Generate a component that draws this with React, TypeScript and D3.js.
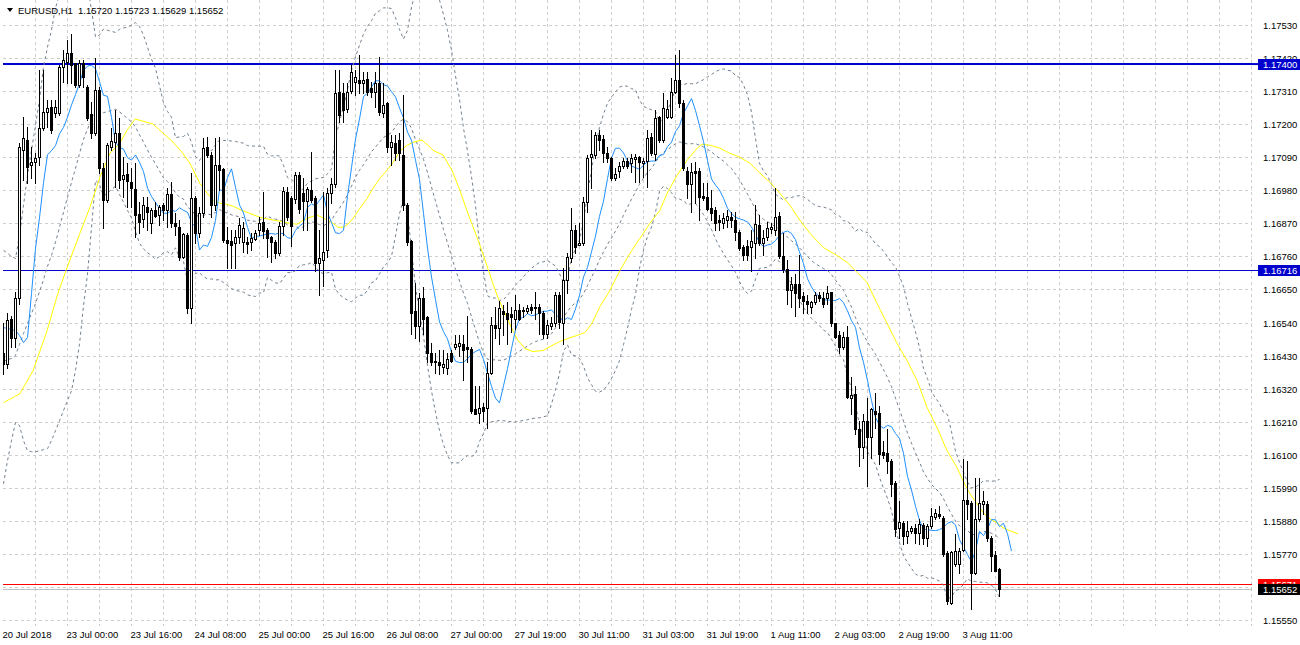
import React from 'react';
import * as d3 from 'd3';

// ---------- data (EURUSD H1) ----------
const open = [1.16440,1.16403,1.16550,1.16487,1.16623,1.17113,1.17147,1.17063,1.17073,1.17090,1.17187,1.17240,1.17257,1.17237,1.17237,1.17390,1.17407,1.17437,1.17403,1.17330,1.17403,1.17323,1.17233,1.17170,1.17313,1.17053,1.16947,1.17123,1.17140,1.17170,1.17017,1.17033,1.17007,1.16983,1.16900,1.16883,1.16923,1.16870,1.16913,1.16897,1.16930,1.16913,1.16967,1.16870,1.16857,1.16757,1.16830,1.16587,1.16953,1.16837,1.16903,1.17123,1.17097,1.16930,1.17063,1.17050,1.16813,1.16810,1.16803,1.16823,1.16807,1.16807,1.16807,1.16817,1.16847,1.16873,1.16847,1.16823,1.16807,1.16770,1.16860,1.16973,1.16953,1.16950,1.17030,1.16970,1.16943,1.16980,1.16953,1.16737,1.16747,1.16780,1.16970,1.17000,1.17307,1.17303,1.17250,1.17310,1.17340,1.17347,1.17337,1.17350,1.17320,1.17307,1.17337,1.17237,1.17270,1.17123,1.17137,1.17147,1.17097,1.16930,1.16810,1.16577,1.16530,1.16623,1.16557,1.16437,1.16413,1.16410,1.16393,1.16390,1.16437,1.16460,1.16463,1.16470,1.16460,1.16453,1.16253,1.16240,1.16260,1.16257,1.16373,1.16533,1.16523,1.16577,1.16570,1.16567,1.16550,1.16580,1.16577,1.16577,1.16590,1.16590,1.16590,1.16570,1.16503,1.16530,1.16537,1.16630,1.16540,1.16680,1.16753,1.16847,1.16797,1.16803,1.16940,1.17090,1.17097,1.17163,1.17150,1.17103,1.17087,1.17020,1.17043,1.17060,1.17077,1.17070,1.17083,1.17090,1.17070,1.17077,1.17157,1.17100,1.17223,1.17147,1.17223,1.17223,1.17307,1.17347,1.17270,1.17043,1.17000,1.17043,1.17043,1.16960,1.16957,1.16920,1.16913,1.16880,1.16870,1.16880,1.16890,1.16880,1.16840,1.16790,1.16793,1.16790,1.16803,1.16863,1.16803,1.16823,1.16850,1.16847,1.16893,1.16760,1.16717,1.16647,1.16667,1.16667,1.16627,1.16613,1.16590,1.16607,1.16630,1.16623,1.16620,1.16640,1.16537,1.16497,1.16460,1.16493,1.16290,1.16303,1.16187,1.16127,1.16213,1.16160,1.16247,1.16240,1.16110,1.16107,1.16080,1.16007,1.15857,1.15873,1.15830,1.15847,1.15857,1.15840,1.15867,1.15823,1.15863,1.15893,1.15903,1.15890,1.15773,1.15607,1.15737,1.15737,1.15783,1.15950,1.15940,1.15707,1.15887,1.15937,1.15937,1.15823,1.15767,1.15720];
const high = [1.16537,1.16573,1.16563,1.16640,1.17137,1.17223,1.17190,1.17123,1.17103,1.17380,1.17380,1.17280,1.17280,1.17280,1.17397,1.17447,1.17480,1.17500,1.17403,1.17413,1.17413,1.17330,1.17273,1.17420,1.17323,1.17070,1.17137,1.17187,1.17247,1.17220,1.17090,1.17070,1.17053,1.17070,1.16940,1.16957,1.16957,1.16920,1.16940,1.16930,1.16937,1.16987,1.17007,1.16903,1.16880,1.16837,1.16837,1.17037,1.16960,1.16923,1.17153,1.17157,1.17107,1.17153,1.17157,1.17053,1.16857,1.16847,1.16847,1.16887,1.16873,1.16823,1.16837,1.16847,1.16890,1.16973,1.16853,1.16827,1.16813,1.16873,1.16990,1.16990,1.16960,1.17040,1.17040,1.17020,1.16990,1.17107,1.16960,1.16847,1.16973,1.16987,1.17020,1.17380,1.17380,1.17337,1.17337,1.17397,1.17380,1.17430,1.17373,1.17373,1.17340,1.17373,1.17423,1.17337,1.17273,1.17163,1.17163,1.17170,1.17297,1.16937,1.16813,1.16670,1.16637,1.16657,1.16563,1.16473,1.16440,1.16447,1.16447,1.16437,1.16447,1.16497,1.16497,1.16497,1.16563,1.16457,1.16330,1.16330,1.16273,1.16407,1.16557,1.16590,1.16613,1.16597,1.16607,1.16590,1.16630,1.16603,1.16590,1.16597,1.16603,1.16640,1.16603,1.16577,1.16547,1.16557,1.16640,1.16640,1.16723,1.16770,1.16920,1.16863,1.16870,1.16957,1.17097,1.17180,1.17173,1.17180,1.17163,1.17123,1.17090,1.17053,1.17073,1.17087,1.17087,1.17100,1.17100,1.17093,1.17087,1.17180,1.17170,1.17247,1.17227,1.17303,1.17280,1.17353,1.17430,1.17447,1.17280,1.17057,1.17070,1.17073,1.17053,1.17003,1.17003,1.16980,1.16923,1.16897,1.16903,1.16913,1.16907,1.16907,1.16847,1.16797,1.16813,1.16847,1.16930,1.16897,1.16847,1.16873,1.16870,1.16987,1.16907,1.16837,1.16747,1.16690,1.16703,1.16763,1.16640,1.16630,1.16613,1.16640,1.16640,1.16640,1.16663,1.16643,1.16540,1.16513,1.16507,1.16530,1.16357,1.16330,1.16213,1.16237,1.16290,1.16257,1.16307,1.16263,1.16147,1.16187,1.16087,1.16013,1.15947,1.15880,1.15880,1.15863,1.15870,1.15887,1.15873,1.15870,1.15923,1.15920,1.15930,1.15897,1.15780,1.15780,1.15837,1.15790,1.16087,1.16080,1.15947,1.16023,1.16023,1.15980,1.15947,1.15830,1.15780,1.15723];
const low = [1.16370,1.16390,1.16457,1.16457,1.16603,1.17013,1.17003,1.17020,1.17003,1.17063,1.17180,1.17190,1.17170,1.17223,1.17230,1.17340,1.17337,1.17337,1.17323,1.17323,1.17323,1.17213,1.17153,1.17163,1.17037,1.16853,1.16940,1.17113,1.16990,1.16987,1.16957,1.16923,1.16923,1.16823,1.16837,1.16857,1.16847,1.16837,1.16890,1.16863,1.16880,1.16857,1.16857,1.16830,1.16747,1.16753,1.16570,1.16537,1.16803,1.16823,1.16890,1.17090,1.16890,1.16913,1.16980,1.16807,1.16723,1.16723,1.16723,1.16803,1.16773,1.16770,1.16780,1.16813,1.16830,1.16820,1.16757,1.16740,1.16753,1.16763,1.16830,1.16880,1.16793,1.16937,1.16903,1.16847,1.16847,1.16940,1.16713,1.16630,1.16663,1.16757,1.16937,1.16990,1.17207,1.17207,1.17240,1.17303,1.17297,1.17303,1.17303,1.17297,1.17290,1.17257,1.17230,1.17223,1.17107,1.17063,1.17080,1.17080,1.16913,1.16797,1.16503,1.16490,1.16480,1.16503,1.16407,1.16397,1.16373,1.16370,1.16373,1.16370,1.16407,1.16453,1.16430,1.16347,1.16407,1.16240,1.16237,1.16207,1.16213,1.16190,1.16370,1.16487,1.16470,1.16497,1.16470,1.16507,1.16520,1.16547,1.16557,1.16570,1.16570,1.16553,1.16503,1.16490,1.16487,1.16520,1.16530,1.16523,1.16470,1.16637,1.16740,1.16770,1.16797,1.16797,1.16907,1.16987,1.17087,1.17113,1.17073,1.17073,1.17013,1.17013,1.17023,1.17053,1.17053,1.17040,1.17007,1.17007,1.17023,1.16990,1.17097,1.17080,1.17140,1.17140,1.17220,1.17220,1.17303,1.17257,1.17047,1.16953,1.16907,1.16937,1.16880,1.16947,1.16913,1.16880,1.16847,1.16847,1.16853,1.16857,1.16857,1.16813,1.16780,1.16747,1.16747,1.16713,1.16753,1.16797,1.16763,1.16813,1.16837,1.16830,1.16753,1.16707,1.16603,1.16590,1.16563,1.16590,1.16573,1.16570,1.16570,1.16603,1.16613,1.16590,1.16603,1.16530,1.16490,1.16440,1.16453,1.16290,1.16237,1.16170,1.16063,1.16090,1.15997,1.16090,1.16190,1.16070,1.16090,1.16040,1.15963,1.15830,1.15823,1.15803,1.15807,1.15840,1.15807,1.15803,1.15803,1.15797,1.15857,1.15887,1.15890,1.15763,1.15603,1.15603,1.15730,1.15707,1.15780,1.15887,1.15587,1.15703,1.15880,1.15903,1.15813,1.15713,1.15713,1.15629];
const close = [1.16403,1.16547,1.16490,1.16620,1.17123,1.17153,1.17057,1.17073,1.17087,1.17187,1.17240,1.17253,1.17180,1.17257,1.17390,1.17413,1.17437,1.17397,1.17330,1.17403,1.17357,1.17220,1.17170,1.17313,1.17053,1.16947,1.17130,1.17143,1.17170,1.17013,1.17030,1.17010,1.16987,1.16897,1.16873,1.16930,1.16907,1.16913,1.16893,1.16923,1.16913,1.16967,1.16870,1.16860,1.16757,1.16833,1.16587,1.16953,1.16837,1.16903,1.17120,1.17097,1.16930,1.17063,1.17047,1.16813,1.16803,1.16797,1.16823,1.16863,1.16853,1.16800,1.16820,1.16837,1.16870,1.16843,1.16820,1.16807,1.16770,1.16860,1.16977,1.16890,1.16860,1.17030,1.16917,1.16943,1.16983,1.16947,1.16737,1.16753,1.16773,1.16970,1.17000,1.17303,1.17230,1.17247,1.17307,1.17373,1.17357,1.17337,1.17347,1.17307,1.17307,1.17337,1.17240,1.17263,1.17123,1.17140,1.17103,1.17103,1.16930,1.16807,1.16573,1.16527,1.16620,1.16553,1.16437,1.16410,1.16407,1.16397,1.16403,1.16417,1.16413,1.16467,1.16473,1.16447,1.16453,1.16247,1.16237,1.16257,1.16247,1.16373,1.16533,1.16523,1.16587,1.16567,1.16553,1.16557,1.16583,1.16553,1.16580,1.16587,1.16583,1.16587,1.16573,1.16503,1.16533,1.16540,1.16630,1.16543,1.16680,1.16757,1.16847,1.16790,1.16803,1.16940,1.17087,1.17100,1.17163,1.17147,1.17103,1.17087,1.17020,1.17033,1.17060,1.17077,1.17060,1.17087,1.17090,1.17073,1.17077,1.17153,1.17103,1.17220,1.17147,1.17253,1.17250,1.17307,1.17347,1.17270,1.17053,1.17000,1.17040,1.17037,1.16957,1.16953,1.16917,1.16903,1.16870,1.16873,1.16887,1.16893,1.16880,1.16840,1.16787,1.16763,1.16763,1.16810,1.16867,1.16803,1.16820,1.16853,1.16857,1.16890,1.16760,1.16717,1.16647,1.16667,1.16637,1.16623,1.16610,1.16603,1.16607,1.16630,1.16623,1.16603,1.16637,1.16537,1.16493,1.16460,1.16493,1.16293,1.16300,1.16187,1.16127,1.16213,1.16160,1.16253,1.16237,1.16103,1.16100,1.16080,1.16003,1.15853,1.15877,1.15830,1.15847,1.15857,1.15840,1.15870,1.15823,1.15863,1.15897,1.15907,1.15897,1.15770,1.15613,1.15777,1.15780,1.15780,1.15950,1.15937,1.15707,1.15887,1.15940,1.15947,1.15823,1.15763,1.15713,1.15652];

// indicator values before enough history is on the chart
const blueHead = [1.16523,1.16520,1.16517,1.16513,1.16497,1.16473,1.16490];
const bbUpperHead = [1.16780,1.16770,1.16760,1.16753,1.16830,1.16930,1.17030,1.17113,1.17197,1.17280,1.17390,1.17457,1.17513,1.17587,1.17630,1.17680,1.17713,1.17730,1.17737];
const bbMidHead = [1.16410,1.16417,1.16420,1.16430,1.16467,1.16503,1.16537,1.16570,1.16603,1.16643,1.16683,1.16727,1.16763,1.16807,1.16857,1.16907,1.16957,1.17007,1.17053];
const bbLowerHead = [1.16003,1.16080,1.16147,1.16207,1.16197,1.16147,1.16113,1.16110,1.16110,1.16113,1.16117,1.16120,1.16147,1.16180,1.16213,1.16247,1.16280,1.16313,1.16380];

// slow moving average (yellow): bar position / value
const yellowAt = [0,4.1,7.4,10.9,13.6,15.9,19.1,21.6,24.1,26.6,29.1,30.9,32.9,34.9,37.4,39.9,42.4,44.6,46.6,49.1,50.9,52.4,54.1,55.9,57.4,59.6,61.6,64.1,66.6,69.1,71.6,73.4,74.9,76.6,78.4,79.6,81.1,82.4,83.6,84.9,86.1,87.4,89.1,90.9,92.4,94.1,95.9,97.4,99.1,100.9,102.4,104.6,106.1,107.4,109.9,112.1,114.1,116.1,118.4,120.4,122.1,123.6,125.4,127.1,128.6,130.4,132.4,134.9,137.1,139.1,141.1,143.4,145.4,147.1,148.4,149.1,151.6,154.1,156.6,159.1,161.6,164.1,165.9,168.4,170.9,173.4,174.6,176.6,179.1,181.6,184.1,186.6,189.1,191.6,194.1,196.6,199.1,201.6,204.9,208.4,210.9,213.4,215.9,218.4,220.9,223.4,225.9,228.4,230.9,233.4,235.9,238.4,239.9,241.6,243.4,244.9,246.6,248.4,249.9,251.6,253.6];
const yellowVal = [1.16273,1.16303,1.16380,1.16513,1.16637,1.16723,1.16837,1.16923,1.17023,1.17103,1.17137,1.17180,1.17217,1.17210,1.17200,1.17170,1.17140,1.17107,1.17070,1.17003,1.16970,1.16947,1.16937,1.16933,1.16927,1.16913,1.16903,1.16890,1.16883,1.16877,1.16870,1.16867,1.16880,1.16890,1.16897,1.16890,1.16880,1.16870,1.16857,1.16857,1.16867,1.16887,1.16920,1.16953,1.16987,1.17020,1.17047,1.17073,1.17110,1.17130,1.17140,1.17147,1.17130,1.17113,1.17097,1.17047,1.16980,1.16903,1.16823,1.16747,1.16680,1.16623,1.16570,1.16520,1.16480,1.16453,1.16443,1.16447,1.16463,1.16477,1.16487,1.16497,1.16507,1.16537,1.16573,1.16593,1.16647,1.16713,1.16770,1.16820,1.16870,1.16913,1.16970,1.17030,1.17080,1.17120,1.17133,1.17130,1.17120,1.17103,1.17090,1.17070,1.17037,1.17007,1.16970,1.16930,1.16880,1.16837,1.16790,1.16763,1.16740,1.16707,1.16673,1.16603,1.16537,1.16470,1.16413,1.16347,1.16257,1.16190,1.16113,1.16057,1.16013,1.15970,1.15937,1.15907,1.15887,1.15873,1.15857,1.15847,1.15837];

const priceTicks = [1.17530,1.17420,1.17310,1.17200,1.17090,1.16980,1.16870,1.16760,1.16650,1.16540,1.16430,1.16320,1.16210,1.16100,1.15990,1.15880,1.15770,1.15660,1.15550];
// 1.15660 sits under the price boxes in the reference, so it gets a grid line but no label
const hiddenTickLabels = [1.15660];
const timeLabels = ['20 Jul 2018','23 Jul 00:00','23 Jul 16:00','24 Jul 08:00','25 Jul 00:00','25 Jul 16:00','26 Jul 08:00','27 Jul 00:00','27 Jul 19:00','30 Jul 11:00','31 Jul 03:00','31 Jul 19:00','1 Aug 11:00','2 Aug 03:00','2 Aug 19:00','3 Aug 11:00'];
const timeLabelBars = [0,16,32,48,64,80,96,112,128,144,160,176,192,208,224,240];

const levelHigh = 1.17400;
const levelMid = 1.16716;
const levelLow = 1.15671;
const bid = 1.15652;

// indicator settings
const BB_PERIOD = 20, BB_DEV = 2;
const FAST_PERIOD = 5, FAST_SHIFT = 3;

const FONT = "'Liberation Sans', Arial, sans-serif";

export default function App() {
  const n = close.length;
  const x = d3.scaleLinear().domain([0, n - 1]).range([3.5, 3.5 + 4 * (n - 1)]);
  const y = d3.scaleLinear().domain([1.15550, 1.17530]).range([620, 25]);
  const PL = 3, PR = 1252, PT = 0, PB = 626;

  // Bollinger bands
  const bb = close.map((_, i) => {
    if (i < BB_PERIOD - 1) return [bbUpperHead[i], bbMidHead[i], bbLowerHead[i]];
    const w = close.slice(i - BB_PERIOD + 1, i + 1);
    const m = d3.mean(w) as number;
    const sd = Math.sqrt(d3.mean(w.map(v => (v - m) * (v - m))) as number);
    return [m + BB_DEV * sd, m, m - BB_DEV * sd];
  });
  // fast MA (shifted)
  const fast: [number, number][] = [];
  for (let j = 0; j < n + FAST_SHIFT; j++) {
    const src = j - FAST_SHIFT;
    if (src < FAST_PERIOD - 1) { if (j < blueHead.length) fast.push([j, blueHead[j]]); continue; }
    fast.push([j, d3.mean(close.slice(src - FAST_PERIOD + 1, src + 1)) as number]);
  }
  const yellow = d3.zip(yellowAt, yellowVal) as [number, number][];

  const line = d3.line<[number, number]>().x(d => x(d[0])).y(d => y(d[1]));
  const bbLine = (k: number) => line(bb.map((v, i) => [i, v[k]] as [number, number])) || '';

  const vGrid: number[] = [];
  for (let b = 8; x(b) <= PR; b += 8) vGrid.push(b);

  const ry = (p: number) => Math.round(y(p));

  const candles = close.map((c, i) => {
    const o = open[i];
    const cx = x(i);
    const top = ry(Math.max(o, c));
    const bot = ry(Math.min(o, c));
    const bull = c > o;
    return (
      <g key={i}>
        <line x1={cx} x2={cx} y1={ry(high[i])} y2={ry(low[i]) + 1} stroke="#000" strokeWidth={1} />
        {bull ? (
          <rect x={cx - 1} y={top + 0.5} width={2} height={Math.max(bot - top, 1)} fill="#fff" stroke="#000" strokeWidth={1} />
        ) : (
          <rect x={cx - 1.5} y={top} width={3} height={Math.max(bot - top + 1, 1)} fill="#000" />
        )}
      </g>
    );
  });

  const box = (p: number, bg: string, label: string) => {
    const yy = y(p);
    return (
      <g>
        <rect x={1258} y={Math.round(yy) - 5} width={42} height={11} fill={bg} />
        <text x={1263} y={Math.round(yy) + 4} fill="#fff" fontSize={9.5} fontFamily={FONT}>{label}</text>
      </g>
    );
  };

  return (
    <svg width={1300} height={645} style={{ position: 'absolute', left: 0, top: 0, background: '#fff' }}>
      <defs>
        <clipPath id="plot"><rect x={PL} y={PT} width={PR - PL} height={PB - PT} /></clipPath>
      </defs>
      <rect x={0} y={0} width={1300} height={645} fill="#fff" />
      {/* grid */}
      <g stroke="#cdcdcd" strokeWidth={1} strokeDasharray="3,3" shapeRendering="crispEdges">
        {priceTicks.map(p => (
          <line key={p} x1={PL} x2={PR} y1={Math.round(y(p)) + 0.5} y2={Math.round(y(p)) + 0.5} />
        ))}
        {vGrid.map(b => (
          <line key={b} x1={x(b)} x2={x(b)} y1={PT} y2={PB} />
        ))}
      </g>
      <g clipPath="url(#plot)">
        {/* horizontal levels */}
        <line x1={PL} x2={1258} y1={y(levelHigh)} y2={y(levelHigh)} stroke="#0000cd" strokeWidth={2} />
        <line x1={PL} x2={1258} y1={Math.round(y(levelMid)) + 0.5} y2={Math.round(y(levelMid)) + 0.5} stroke="#0000cd" strokeWidth={1} />
        <line x1={PL} x2={PR} y1={Math.round(y(bid)) + 0.5} y2={Math.round(y(bid)) + 0.5} stroke="#c0c0c0" strokeWidth={1} />
        <line x1={PL} x2={PR} y1={Math.round(y(levelLow)) + 0.5} y2={Math.round(y(levelLow)) + 0.5} stroke="#ff0000" strokeWidth={1} />
        {/* Bollinger bands */}
        <g fill="none" stroke="#708090" strokeWidth={1} strokeDasharray="3,3">
          <path d={bbLine(0)} />
          <path d={bbLine(1)} />
          <path d={bbLine(2)} />
        </g>
        {/* moving averages */}
        <path d={line(yellow) || ''} fill="none" stroke="#ffff00" strokeWidth={1} />
        <path d={line(fast) || ''} fill="none" stroke="#1e90ff" strokeWidth={1} />
        {/* candles */}
        <g shapeRendering="crispEdges">{candles}</g>
      </g>
      {/* level lines into axis */}
      <line x1={PR} x2={1258} y1={y(levelHigh)} y2={y(levelHigh)} stroke="#0000cd" strokeWidth={2} />
      <line x1={PR} x2={1258} y1={Math.round(y(levelMid)) + 0.5} y2={Math.round(y(levelMid)) + 0.5} stroke="#0000cd" strokeWidth={1} />
      {/* price axis labels */}
      <g fontSize={9.5} fontFamily={FONT} fill="#000">
        {priceTicks.filter(p => !hiddenTickLabels.includes(p)).map(p => (
          <text key={p} x={1263} y={Math.round(y(p)) + 4}>{p.toFixed(5)}</text>
        ))}
      </g>
      {box(levelHigh, '#0000cd', levelHigh.toFixed(5))}
      {box(levelMid, '#0000cd', levelMid.toFixed(5))}
      {box(levelLow, '#ff0000', levelLow.toFixed(5))}
      {box(bid, '#000000', bid.toFixed(5))}
      {/* time labels */}
      <g fontSize={9.5} fontFamily={FONT} fill="#000">
        {timeLabels.map((t, i) => (
          <text key={t} x={x(timeLabelBars[i]) - 1} y={638}>{t}</text>
        ))}
      </g>
      {/* title */}
      <path d="M7,8 L13,8 L10,12 Z" fill="#000" />
      <text x={18} y={14} fontSize={9.5} fontFamily={FONT} fill="#000">EURUSD,H1</text>
      <text x={78} y={14} fontSize={9.5} fontFamily={FONT} fill="#000">
        {[open[n - 1], high[n - 1], low[n - 1], close[n - 1]].map(v => v.toFixed(5)).join(' ')}
      </text>
    </svg>
  );
}
